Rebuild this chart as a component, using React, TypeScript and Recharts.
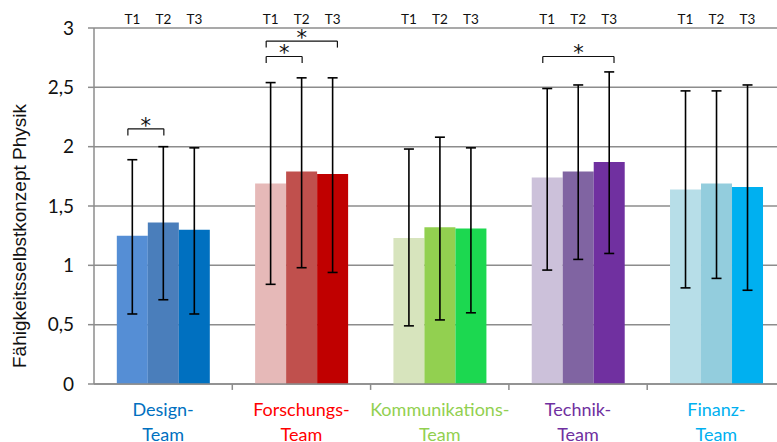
import {
  BarChart,
  Bar,
  Cell,
  XAxis,
  YAxis,
  CartesianGrid,
  ErrorBar,
  LabelList,
  ReferenceLine,
  ReferenceDot,
} from "recharts";

const categories = ["Design-Team", "Forschungs-Team", "Kommunikations-Team", "Technik-Team", "Finanz-Team"];
const labelColors = ["#0070C0", "#FF0000", "#92D050", "#7030A0", "#00B0F0"];
const timeLabels = ["T1", "T2", "T3"];

const t1Means = [1.25, 1.69, 1.23, 1.74, 1.64];
const t2Means = [1.36, 1.79, 1.32, 1.79, 1.69];
const t3Means = [1.3, 1.77, 1.31, 1.87, 1.66];

const t1Upper = [1.89, 2.54, 1.98, 2.49, 2.47];
const t1Lower = [0.59, 0.84, 0.49, 0.96, 0.81];
const t2Upper = [2.0, 2.58, 2.08, 2.52, 2.47];
const t2Lower = [0.71, 0.98, 0.54, 1.05, 0.89];
const t3Upper = [1.99, 2.58, 1.99, 2.63, 2.52];
const t3Lower = [0.59, 0.94, 0.6, 1.1, 0.79];

const t1Colors = ["#558ED5", "#E6B9B8", "#D7E4BD", "#CCC1DA", "#B7DEE8"];
const t2Colors = ["#4A7EBB", "#C0504D", "#92D050", "#8064A2", "#93CDDD"];
const t3Colors = ["#0070C0", "#C00000", "#1CD850", "#7030A0", "#00B0F0"];

const yTicks = [0, 0.5, 1, 1.5, 2, 2.5, 3];

// significance brackets: category, from / to time point, level
const brackets = [
  { cat: 0, from: 0, to: 1, level: 2.15 },
  { cat: 1, from: 0, to: 1, level: 2.76 },
  { cat: 1, from: 0, to: 2, level: 2.89 },
  { cat: 3, from: 0, to: 2, level: 2.76 },
];
// bracket end positions inside a category (fraction of band)
const bracketPos = [0.245, 0.505, 0.76];
const bracketLeg = 0.055;

const data = categories.map((name, i) => ({
  name,
  idx: i,
  t1: t1Means[i],
  t2: t2Means[i],
  t3: t3Means[i],
  e1: [t1Means[i] - t1Lower[i], t1Upper[i] - t1Means[i]],
  e2: [t2Means[i] - t2Lower[i], t2Upper[i] - t2Means[i]],
  e3: [t3Means[i] - t3Lower[i], t3Upper[i] - t3Means[i]],
}));

const font = "Lato, 'Open Sans', sans-serif";
const gridColor = "#8c8c8c";

const CategoryTick = ({ x, y, payload, index }: any) => {
  const [first, second] = String(payload.value).split("-");
  const color = labelColors[index] ?? "#000";
  return (
    <g>
      <text x={x} y={y + 24} textAnchor="middle" fill={color} fontSize={18} fontFamily={font}>
        {first}-
      </text>
      <text x={x} y={y + 49} textAnchor="middle" fill={color} fontSize={18} fontFamily={font}>
        {second}
      </text>
    </g>
  );
};

const YTitle = ({ viewBox }: any) => {
  const cx = 19;
  const cy = viewBox.y + viewBox.height / 2 + 30;
  return (
    <text
      x={cx}
      y={cy}
      transform={`rotate(-90, ${cx}, ${cy})`}
      textAnchor="middle"
      dominantBaseline="central"
      fontSize={19}
      fill="#111"
      fontFamily="'Liberation Sans', Arial, sans-serif"
    >
      Fähigkeitsselbstkonzept Physik
    </text>
  );
};

const timeLabel = (label: string) => (props: any) => {
  const { x, width } = props;
  return (
    <text x={x + width / 2} y={24} textAnchor="middle" fontSize={13.5} fill="#111" fontFamily={font}>
      {label}
    </text>
  );
};

const Star = (props: any) => (
  <text
    x={props.cx}
    y={props.cy + 4}
    textAnchor="middle"
    fontSize={21}
    fill="#111"
    fontFamily="'DejaVu Sans', sans-serif"
  >
    *
  </text>
);

export default function App() {
  const series = [
    { key: "t1", err: "e1", colors: t1Colors },
    { key: "t2", err: "e2", colors: t2Colors },
    { key: "t3", err: "e3", colors: t3Colors },
  ];

  return (
    <div style={{ position: "absolute", left: 0, top: 0, width: 777, height: 442, overflow: "hidden", background: "#fff" }}>
      <BarChart
        width={800}
        height={442}
        data={data}
        margin={{ top: 28, right: 14.5, left: 0, bottom: 0 }}
        barCategoryGap="16.5%"
        barGap={0}
      >
        <CartesianGrid vertical={false} stroke={gridColor} strokeWidth={1.5} />
        <XAxis
          dataKey="name"
          height={58}
          tick={<CategoryTick />}
          tickLine={false}
          axisLine={{ stroke: gridColor, strokeWidth: 1.5 }}
          interval={0}
        />
        <XAxis xAxisId="num" dataKey="idx" type="number" domain={[0, 5]} allowDataOverflow hide />
        <YAxis
          width={94}
          domain={[0, 3]}
          ticks={yTicks}
          interval={0}
          tickFormatter={(v: number) => String(v).replace(".", ",")}
          tick={{ fontSize: 19, fill: "#111", fontFamily: font }}
          tickSize={6}
          tickMargin={14}
          tickLine={{ stroke: gridColor, strokeWidth: 1.5 }}
          axisLine={{ stroke: gridColor, strokeWidth: 1.5 }}
          label={<YTitle />}
        />

        {series.map((s, si) => (
          <Bar key={s.key} dataKey={s.key} isAnimationActive={false}>
            {data.map((d, i) => (
              <Cell key={d.name} fill={s.colors[i]} />
            ))}
            <ErrorBar dataKey={s.err} width={5} stroke="#000" strokeWidth={1.6} direction="y" />
            <LabelList dataKey={s.key} content={timeLabel(timeLabels[si])} />
          </Bar>
        ))}

        {[1, 2, 3, 4, 5].map((b) => (
          <ReferenceLine
            key={"tick" + b}
            xAxisId="num"
            segment={[
              { x: b, y: 0 },
              { x: b, y: -0.05 },
            ]}
            stroke={gridColor}
            strokeWidth={1.5}
            ifOverflow="visible"
          />
        ))}

        {brackets.map((br, i) => {
          const x1 = br.cat + bracketPos[br.from];
          const x2 = br.cat + bracketPos[br.to];
          return [
            <ReferenceLine
              key={"bh" + i}
              xAxisId="num"
              segment={[
                { x: x1, y: br.level },
                { x: x2, y: br.level },
              ]}
              stroke="#111"
              strokeWidth={1.2}
              ifOverflow="visible"
            />,
            <ReferenceLine
              key={"bl" + i}
              xAxisId="num"
              segment={[
                { x: x1, y: br.level },
                { x: x1, y: br.level - bracketLeg },
              ]}
              stroke="#111"
              strokeWidth={1.2}
              ifOverflow="visible"
            />,
            <ReferenceLine
              key={"br" + i}
              xAxisId="num"
              segment={[
                { x: x2, y: br.level },
                { x: x2, y: br.level - bracketLeg },
              ]}
              stroke="#111"
              strokeWidth={1.2}
              ifOverflow="visible"
            />,
            <ReferenceDot
              key={"bs" + i}
              xAxisId="num"
              x={(x1 + x2) / 2}
              y={br.level}
              r={0}
              shape={Star}
              ifOverflow="visible"
            />,
          ];
        })}
      </BarChart>
    </div>
  );
}
